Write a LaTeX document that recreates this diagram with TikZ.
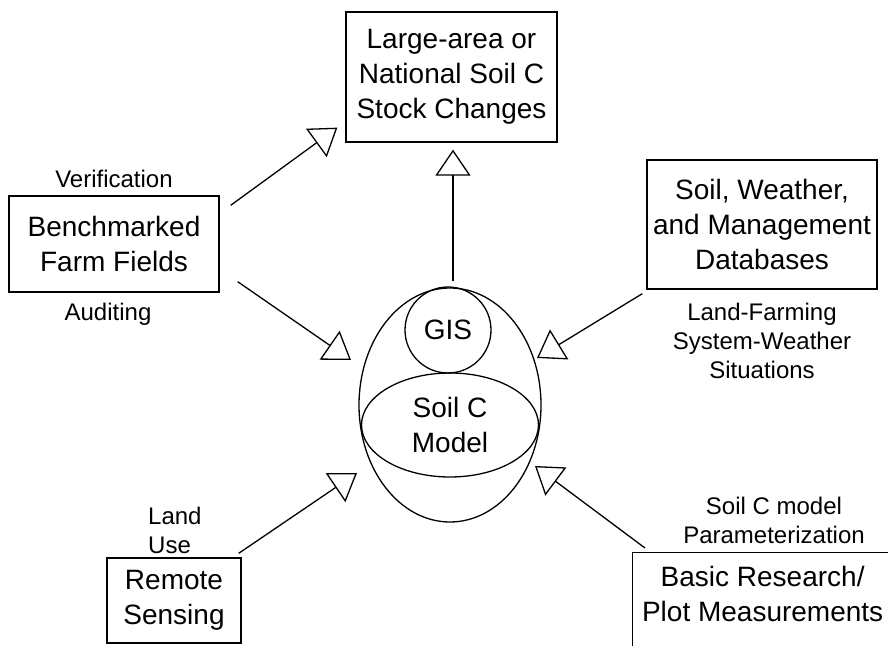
\documentclass[tikz,border=0pt]{standalone}
\usepackage{fontspec}
\setmainfont{Liberation Sans}
\usetikzlibrary{arrows.meta,positioning,shapes.geometric}

\newcommand{\boxfont}{\fontsize{28}{35}\selectfont}
\newcommand{\lblfont}{\fontsize{24}{29}\selectfont}

\begin{document}
\begin{tikzpicture}[
  x=1pt, y=1pt,
  block/.style={draw, line width=1.3pt, align=center, inner sep=0pt, font=\boxfont},
  lbl/.style={align=center, inner sep=0pt, font=\lblfont},
  arr/.style={line width=1.3pt, -{Triangle[open, length=26pt, width=35pt]}}
]
\useasboundingbox (0,0) rectangle (888,645);
\clip (0,0) rectangle (888,645);

% Boxes
\node[block, minimum width=211pt, minimum height=130pt] (stock) at (451.5,568) {Large-area or\\National Soil C\\Stock Changes};
\node[block, minimum width=210pt, minimum height=96pt] (bench) at (114,401) {Benchmarked\\Farm Fields};
\node[block, minimum width=230pt, minimum height=129pt] (db) at (762,420.5) {Soil, Weather,\\and Management\\Databases};
\node[block, minimum width=134pt, minimum height=85pt] (remote) at (174,44.5) {Remote\\Sensing};
\node[block, anchor=north west, minimum width=290pt, minimum height=120pt] (basic) at (632,93) {};
\node[font=\boxfont, align=center, inner sep=0pt] (basictxt) at ([xshift=-15pt, yshift=-42pt]basic.north) {Basic Research/\\Plot Measurements};

% Model egg
\node[draw, ellipse, line width=1.3pt, minimum width=182pt, minimum height=234pt, inner sep=0pt] (egg) at (450,240) {};
\node[draw, circle, line width=1.3pt, minimum size=86pt, inner sep=0pt, font=\boxfont] (gis) at (448,315) {GIS};
\node[draw, ellipse, line width=1.3pt, minimum width=177pt, minimum height=104pt, inner sep=0pt, align=center, font=\boxfont] (model) at (450,220) {Soil C\\Model};

% Labels
\node[lbl, above=7pt of bench] (verif) {Verification};
\node[lbl, below=10pt of bench, xshift=-6pt] (audit) {Auditing};
\node[lbl, below=13pt of db] (situ) {Land-Farming\\System-Weather\\Situations};
\node[lbl, align=left, anchor=west] (landuse) at (148,115) {Land\\Use};
\node[lbl] (param) at (774,125) {Soil C model\\Parameterization};

% Arrow tips at the egg
\coordinate (inW) at ([shift={(-99pt,45pt)}]egg.center);
\coordinate (inE) at ([shift={(87pt,47pt)}]egg.center);
\coordinate (inSW) at ([shift={(-93pt,-68pt)}]egg.center);
\coordinate (inSE) at ([shift={(85pt,-61pt)}]egg.center);

% Connections
\draw[arr] ([shift={(11pt,-10pt)}]bench.north east) -- ([shift={(-8pt,15pt)}]stock.south west);
\draw[arr] ([shift={(18pt,11pt)}]bench.south east) -- (inW);
\draw[arr] ([shift={(-4pt,-4pt)}]db.south west) -- (inE);
\draw[arr] ([shift={(-3pt,4pt)}]remote.north east) -- (inSW);
\draw[arr] ([shift={(13pt,4pt)}]basic.north west) -- (inSE);
\draw[arr] ([shift={(3pt,6pt)}]egg.north) -- ([shift={(1.5pt,-7pt)}]stock.south);

\end{tikzpicture}
\end{document}
